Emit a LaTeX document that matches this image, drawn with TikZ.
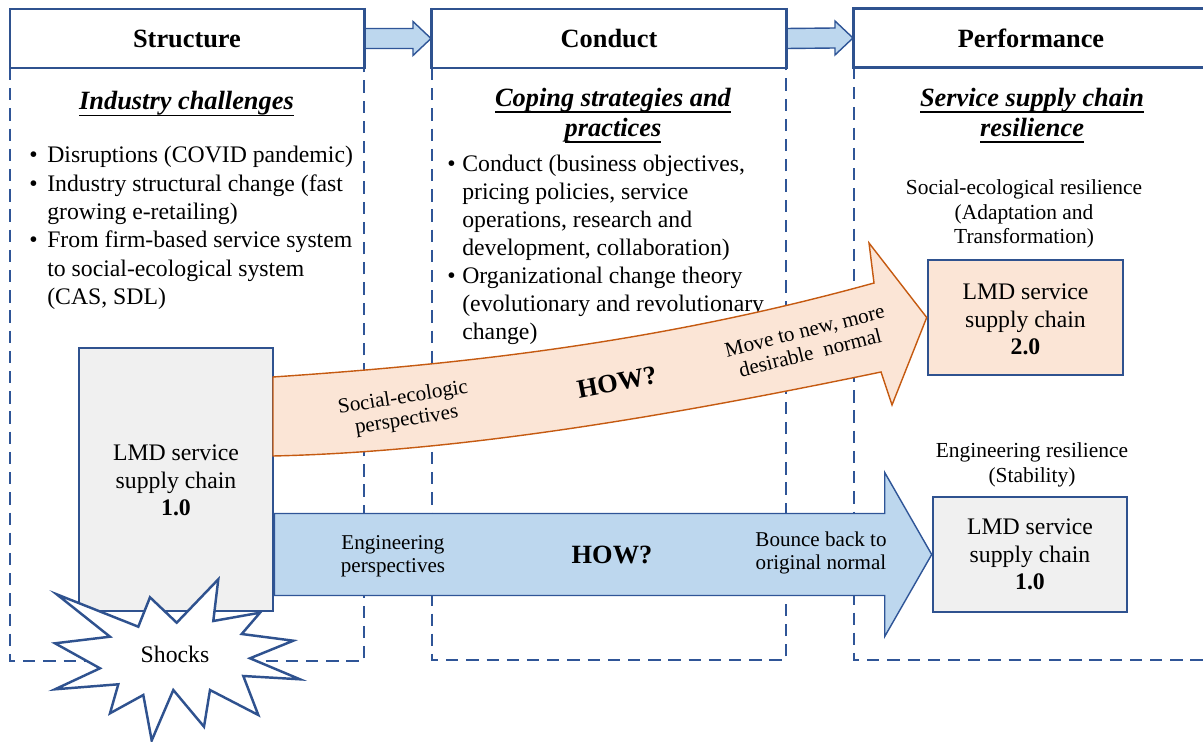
\documentclass[tikz,border=0pt]{standalone}
\usepackage{fontspec}
\setmainfont{Liberation Serif}
\usetikzlibrary{calc}
\definecolor{bdr}{HTML}{2F528F}
\definecolor{dsh}{HTML}{2F5597}
\definecolor{bfill}{HTML}{BDD7EE}
\definecolor{ofill}{HTML}{FBE5D6}
\definecolor{odraw}{HTML}{C55A11}
\definecolor{gfill}{HTML}{F0F0F0}
\newcommand{\fbody}{\fontsize{13.5pt}{16.1pt}\selectfont}
\newcommand{\fcond}{\fontsize{13.5pt}{15.9pt}\selectfont}
\newcommand{\fhead}{\fontsize{15pt}{17pt}\selectfont\bfseries}
\newcommand{\fsub}{\fontsize{15pt}{17pt}\selectfont\bfseries\itshape}
\newcommand{\fsmall}{\fontsize{12.2pt}{13.9pt}\selectfont}
\newcommand{\flmd}{\fontsize{13.5pt}{15.5pt}\selectfont}
\newcommand{\farr}{\fontsize{12pt}{13pt}\selectfont}
\newcommand{\mylines}[1]{\begin{tabular}[t]{@{}c@{}}#1\end{tabular}}
\newcommand{\myul}[1]{\setbox0\hbox{#1}\rlap{\rule[-3.6pt]{\wd0}{1pt}}\box0}
\begin{document}
\begin{tikzpicture}[x=0.02cm,y=-0.02cm,
  hdr/.style={draw=bdr, line width=1.2pt, fill=white, minimum width=7.08cm, minimum height=1.18cm, inner sep=0pt, font=\fhead},
  colbox/.style={draw=dsh, line width=1.2pt, dash pattern=on 7pt off 4.5pt},
  lmdbox/.style={draw=bdr, line width=1.5pt, inner sep=0pt},
  txt/.style={inner sep=0pt},
  barrow/.style={draw=dsh, line width=0.8pt, fill=bfill, line join=miter},
  oarrow/.style={draw=odraw, line width=0.8pt, fill=ofill, line join=miter},
  starsh/.style={draw=bdr, line width=1.4pt, fill=white, line join=miter, miter limit=20}]
\useasboundingbox (0,0) rectangle (1203,742);
% dashed column frames
\draw[colbox] (10,68) rectangle (364,661);
\draw[colbox] (432,68) rectangle (786,660);
\draw[colbox] (854,67) rectangle (1208,660);
% header boxes
\node[hdr] (hS) at (187,38.5) {Structure};
\node[hdr] (hC) at (609,38.5) {Conduct};
\node[hdr] (hP) at (1031,38) {Performance};
% small arrows between headers
\draw[barrow] ($(hS.east)+(0,-10)$) -- ($(hC.west)+(-18,-10)$) -- ($(hC.west)+(-18,-17)$) -- (hC.west) -- ($(hC.west)+(-18,17)$) -- ($(hC.west)+(-18,10)$) -- ($(hS.east)+(0,10)$) -- cycle;
\draw[barrow] ($(hC.east)+(0,-10)$) -- ($(hP.west)+(-18,-10)$) -- ($(hP.west)+(-18,-17)$) -- (hP.west) -- ($(hP.west)+(-18,17)$) -- ($(hP.west)+(-18,10)$) -- ($(hC.east)+(0,10)$) -- cycle;
\draw[bdr, line width=1.2pt] (hS.north east) -- (hS.south east);
\draw[bdr, line width=1.2pt] (hC.north west) -- (hC.south west) (hC.north east) -- (hC.south east);
\draw[bdr, line width=1.2pt] (hP.north west) -- (hP.south west);
% subtitles
\node[txt, font=\fsub, anchor=base] (sS) at (186.5,110) {\myul{Industry challenges}};
\node[txt, font=\fsub, anchor=base] (sC) at (613,106.5) {\mylines{\myul{Coping strategies and}\\\myul{practices}}};
\node[txt, font=\fsub, anchor=base] (sP) at (1032,106.5) {\mylines{\myul{Service supply chain}\\\myul{resilience}}};
% bullet lists
\node[txt, font=\fbody, anchor=base west] (lS) at (29,163) {\begin{tabular}[t]{@{}l@{\hspace{5.5pt}}l@{}}\textbullet & Disruptions (COVID pandemic)\\ \textbullet & Industry structural change (fast\\ & growing e-retailing)\\ \textbullet & From firm-based service system\\ & to social-ecological system\\ & (CAS, SDL)\end{tabular}};
\node[txt, font=\fcond, anchor=base west] (lC) at (447,171.5) {\begin{tabular}[t]{@{}l@{\hspace{3.8pt}}l@{}}\textbullet & Conduct (business objectives,\\ & pricing policies, service\\ & operations, research and\\ & development, collaboration)\\ \textbullet & Organizational change theory\\ & (evolutionary and revolutionary\\ & change)\end{tabular}};
% performance labels
\node[txt, font=\fsmall, anchor=base] (pS) at (1024,195) {\mylines{Social-ecological resilience\\(Adaptation and\\Transformation)}};
\node[txt, font=\fsmall, anchor=base] (pE) at (1032,458) {\mylines{Engineering resilience\\(Stability)}};
% boxes
\node[lmdbox, fill=gfill, minimum width=3.88cm, minimum height=5.26cm] (lmd1) at (176,479.5) {};
\node[txt, font=\flmd, anchor=base] (lmd1t) at (176,461) {\mylines{LMD service\\supply chain\\\textbf{1.0}}};
\node[lmdbox, fill=ofill, minimum width=3.9cm, minimum height=2.3cm] (lmd2) at (1025.5,317.5) {};
\node[txt, font=\flmd, anchor=base] (lmd2t) at (1025.5,300) {\mylines{LMD service\\supply chain\\\textbf{2.0}}};
\node[lmdbox, fill=gfill, minimum width=3.88cm, minimum height=2.3cm] (lmdB) at (1030,554.5) {};
\node[txt, font=\flmd, anchor=base] (lmdBt) at (1030,535) {\mylines{LMD service\\supply chain\\\textbf{1.0}}};
% orange arrow
\coordinate (oTip) at (lmd2.west);
\draw[oarrow] (273,377) .. controls (450,365) and (650,345) .. (874,283) -- (869,243) -- (oTip) -- (892,405) -- (881,372) .. controls (650,420) and (450,452) .. (273,456) -- cycle;
% blue arrow
\coordinate (bT) at (lmdB.west);
\draw[barrow] ($(lmd1.east|-bT)+(0,-41)$) -- ($(bT)+(-47,-41)$) -- ($(bT)+(-47,-82)$) -- (bT) -- ($(bT)+(-47,82)$) -- ($(bT)+(-47,41)$) -- ($(lmd1.east|-bT)+(0,41)$) -- cycle;
% arrow labels
\node[txt, font=\farr, rotate=9] (oL) at (405,410) {\mylines{Social-ecologic\\perspectives}};
\node[txt, font=\fhead, rotate=11] (oH) at (617,382) {HOW?};
\node[txt, font=\farr, rotate=14] (oR) at (808,344) {\mylines{Move to new, more\\desirable~ normal}};
\node[txt, font=\farr, anchor=base] (bL) at (393,550) {\mylines{Engineering\\perspectives}};
\node[txt, font=\fhead, anchor=base] (bH) at (612,563) {HOW?};
\node[txt, font=\farr, anchor=base] (bR) at (821,547) {\mylines{Bounce back to\\original normal}};
% shocks star
\draw[starsh] (56.7,594.3) -- (138.3,626.7) -- (150,597.3) -- (176.7,622.7) -- (218.3,579.3) -- (213.3,621) -- (260,612.7) -- (241.7,634) -- (293.3,640.7) -- (250,658.3) -- (300,679.3) -- (243.3,676) -- (258.3,715) -- (210,690) -- (204,726.7) -- (173.3,690) -- (151.7,740.5) -- (143.3,695) -- (110,713.3) -- (118.3,684.3) -- (55,689.3) -- (100,668.3) -- (55,643.3) -- (110,636.7) -- cycle;
\node[txt, font=\fbody, anchor=base] (shk) at (175,663) {Shocks};
\end{tikzpicture}
\end{document}
